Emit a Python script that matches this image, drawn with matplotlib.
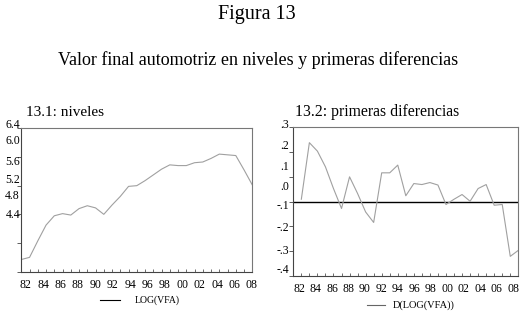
import numpy as np
import matplotlib
matplotlib.use("Agg")
import matplotlib.pyplot as plt

years = list(range(1980, 2009))
log_vfa = [4.57, 4.60, 4.83, 5.05, 5.18, 5.21, 5.19, 5.28, 5.32, 5.29,
           5.20, 5.33, 5.45, 5.59, 5.60, 5.67, 5.75, 5.83, 5.89, 5.88,
           5.88, 5.92, 5.93, 5.98, 6.04, 6.03, 6.02, 5.82, 5.61]
diff_years = years[1:]
d_log_vfa = [0.009, 0.236, 0.202, 0.139, 0.052, -0.028, 0.099, 0.032, -0.042, -0.084,
             0.115, 0.115, 0.146, 0.023, 0.072, 0.068, 0.076, 0.066, -0.012, 0.009,
             0.028, 0.001, 0.052, 0.068, -0.015, -0.012, -0.220, -0.196]

x_labels = ["82", "84", "86", "88", "90", "92", "94", "96", "98", "00", "02", "04", "06", "08"]
left_ylabels = ["6.4", "6.0", "5.6", "5.2", "4.8", "4.4"]
right_ylabels = [".3", ".2", ".1", ".0", "-.1", "-.2", "-.3", "-.4"]

W, H = 523, 317
fig = plt.figure(figsize=(W / 100, H / 100), dpi=100)
fig.patch.set_facecolor("white")
SERIF = ["Liberation Serif", "DejaVu Serif"]

def fx(px):
    return px / W

def fy(py):
    return 1 - py / H

fig.text(fx(257), fy(14), "Figura 13", ha="center", va="center", fontsize=14.5, family=SERIF)
fig.text(fx(258), fy(60), "Valor final automotriz en niveles y primeras diferencias",
         ha="center", va="center", fontsize=13, family=SERIF)

def setup(ax, ylo, yhi, ystep):
    ax.set_xlim(1980, 2008)
    ax.set_ylim(ylo, yhi)
    ax.set_xticks(years)
    ax.set_xticklabels([])
    ax.set_yticks(np.round(np.arange(ylo, yhi + ystep / 2, ystep), 3))
    ax.set_yticklabels([])
    ax.tick_params(axis="x", direction="in", length=2.5, width=0.6, color="#555555")
    ax.tick_params(axis="y", direction="out", length=3, width=0.6, color="#444444")
    for s in ["left", "bottom"]:
        ax.spines[s].set_color("#444444")
        ax.spines[s].set_linewidth(0.8)
    for s in ["top", "right"]:
        ax.spines[s].set_color("#777777")
        ax.spines[s].set_linewidth(0.8)

# Left panel
ax1 = fig.add_axes([fx(21.3), fy(271.7), fx(231), 143.4 / H])
setup(ax1, 4.4, 6.4, 0.4)
ax1.plot(years, log_vfa, color="#a0a0a0", lw=0.8)
fig.text(fx(26), fy(112), "13.1: niveles", ha="left", va="center", fontsize=11, family=SERIF)
for lab, py in zip(left_ylabels, [125, 141, 162, 180, 196, 215]):
    fig.text(fx(20), fy(py), lab, ha="right", va="center", fontsize=8.5, family=SERIF)
for lab, xv in zip(x_labels, np.linspace(1980.53, 2007.93, len(x_labels))):
    ax1.text(xv, -0.093, lab, transform=ax1.get_xaxis_transform(), ha="center", va="center",
             fontsize=8.5, family=SERIF)
fig.add_artist(plt.Line2D([fx(100), fx(120)], [fy(300), fy(300)], color="black", lw=0.8))
fig.text(fx(135), fy(300), "LOG(VFA)", ha="left", va="center", fontsize=7, family=SERIF)

# Right panel
ax2 = fig.add_axes([fx(293.3), fy(276.3), fx(225), 149.6 / H])
setup(ax2, -0.3, 0.3, 0.1)
ax2.axhline(0, color="black", lw=1.0)
ax2.plot(diff_years, d_log_vfa, color="#a0a0a0", lw=0.8)
fig.text(fx(295), fy(112), "13.2: primeras diferencias", ha="left", va="center", fontsize=11.3, family=SERIF)
for lab, py in zip(right_ylabels, [125, 145.7, 166.7, 186.7, 205.7, 228.3, 251, 270]):
    fig.text(fx(288.7), fy(py), lab, ha="right", va="center", fontsize=8.5, family=SERIF)
for lab, xv in zip(x_labels, np.linspace(1980.71, 2007.38, len(x_labels))):
    ax2.text(xv, -0.085, lab, transform=ax2.get_xaxis_transform(), ha="center", va="center",
             fontsize=8.5, family=SERIF)
fig.add_artist(plt.Line2D([fx(367), fx(385)], [fy(305), fy(305)], color="#666666", lw=0.8))
fig.text(fx(393), fy(305), "D(LOG(VFA))", ha="left", va="center", fontsize=7.5, family=SERIF)

fig.savefig("out.png", dpi=100, facecolor="white")
